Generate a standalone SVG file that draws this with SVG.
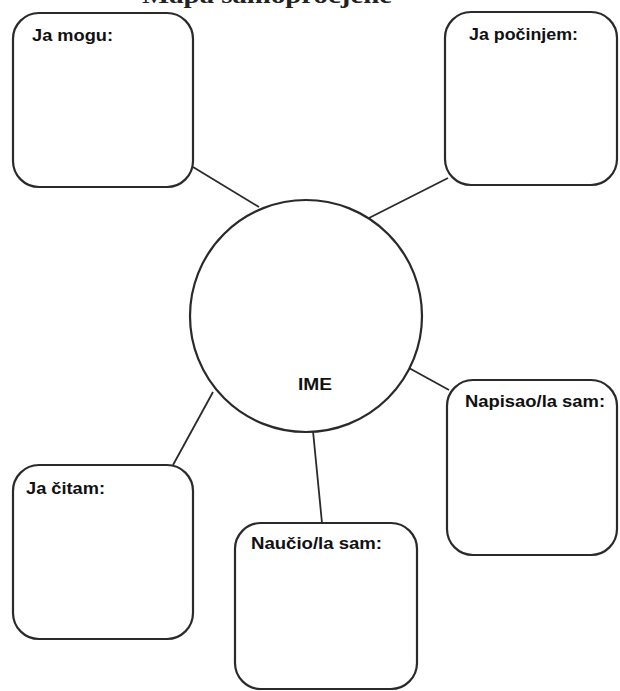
<svg xmlns="http://www.w3.org/2000/svg" width="620" height="691" viewBox="0 0 620 691">
<style>
.box{fill:#fff;stroke:#2a2a2a;stroke-width:2.2}
.lbl{font-family:"Liberation Sans",Arial,sans-serif;font-weight:bold;font-size:16px;fill:#111}
.conn line{stroke:#2a2a2a;stroke-width:1.8}
.title{font-family:"Liberation Serif","Times New Roman",serif;font-weight:bold;font-size:23px;fill:#222}
</style>
<rect width="620" height="691" fill="#fff"/>
<text class="title" x="142" y="3" textLength="250" lengthAdjust="spacingAndGlyphs">Mapa samoprocjene</text>
<g class="conn" id="connectors">
<line x1="193" y1="167" x2="259" y2="207"/>
<line x1="448" y1="178" x2="369" y2="218"/>
<line x1="409" y1="368" x2="449" y2="390"/>
<line x1="213" y1="392" x2="173" y2="465"/>
<line x1="313" y1="431" x2="322" y2="523"/>
</g>
<g id="ja-mogu"><rect class="box" x="13" y="13" width="180" height="174" rx="26"/><text class="lbl" x="32" y="41" textLength="81" lengthAdjust="spacingAndGlyphs">Ja mogu:</text></g>
<g id="ja-pocinjem"><rect class="box" x="445" y="12" width="172" height="173" rx="26"/><text class="lbl" x="469" y="40" textLength="109" lengthAdjust="spacingAndGlyphs">Ja počinjem:</text></g>
<g id="ime"><circle class="box" cx="306" cy="316" r="116"/><text class="lbl" x="298" y="390" textLength="34" lengthAdjust="spacingAndGlyphs">IME</text></g>
<g id="napisao"><rect class="box" x="447" y="380" width="170" height="175" rx="26"/><text class="lbl" x="465" y="407" textLength="140" lengthAdjust="spacingAndGlyphs">Napisao/la sam:</text></g>
<g id="ja-citam"><rect class="box" x="13" y="465" width="180" height="174" rx="26"/><text class="lbl" x="26" y="494" textLength="79" lengthAdjust="spacingAndGlyphs">Ja čitam:</text></g>
<g id="naucio"><rect class="box" x="235" y="523" width="182" height="166" rx="26"/><text class="lbl" x="251" y="549" textLength="131" lengthAdjust="spacingAndGlyphs">Naučio/la sam:</text></g>
</svg>
